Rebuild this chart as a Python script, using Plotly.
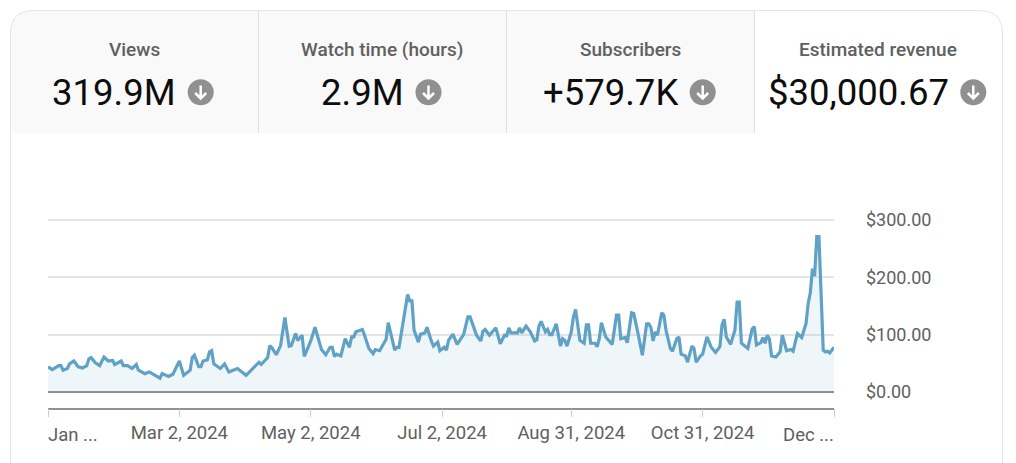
import pandas as pd
import plotly.graph_objects as go

W, H = 1016, 463

# days counted from Jan 1 2024, revenue in dollars
days_a = [0, 2, 5, 6, 7, 9, 10, 12, 14, 16, 18, 19, 20, 22, 24, 26, 28, 30, 31, 34, 35, 37, 39, 41, 42, 45, 47, 52, 53, 56, 58,
          61, 63, 66, 67, 68, 70, 71, 72, 74, 75, 76, 77, 80, 82, 84, 86, 88, 92, 95, 98, 99, 102, 103, 104, 106, 108, 110,
          112, 113, 115, 116, 118, 119]
revenue_a = [44, 39, 46, 46, 38, 41, 49, 54, 44, 42, 46, 58, 60, 51, 46, 61, 54, 55, 48, 54, 46, 46, 41, 48, 38, 32, 35, 24, 32, 27, 31,
             54, 29, 38, 60, 64, 44, 44, 54, 56, 70, 72, 49, 41, 49, 35, 38, 41, 29, 41, 52, 48, 60, 81, 77, 65, 81, 130,
             80, 81, 102, 90, 99, 62]

days_b = [122, 124, 127, 129, 131, 132, 133, 134, 136, 138, 140, 141, 142, 143, 145, 146, 147, 149, 151, 152, 154, 157, 158, 160,
          161, 162, 163, 167, 168, 169, 170, 172, 173, 175, 176, 178, 179, 181, 182, 184, 185, 186, 188, 190, 193, 195, 196,
          199, 201, 202, 203, 205, 208, 210, 212, 213, 214, 215, 218, 219, 220, 222, 224, 226, 227, 228, 229, 231, 232, 233,
          234, 236, 238, 239, 240, 241, 243, 244]
revenue_b = [89, 113, 74, 65, 78, 78, 62, 66, 63, 93, 78, 96, 96, 105, 108, 109, 99, 76, 67, 74, 72, 92, 121, 90,
             73, 78, 78, 170, 159, 159, 108, 87, 101, 103, 113, 89, 80, 87, 72, 78, 73, 90, 101, 83, 100, 131, 131,
             99, 89, 106, 109, 99, 112, 84, 99, 98, 112, 103, 103, 112, 103, 115, 105, 89, 91, 115, 123, 105, 109, 100,
             100, 119, 80, 93, 90, 80, 105, 131]

days_c = [245, 247, 249, 250, 251, 252, 254, 255, 256, 257, 259, 262, 264, 265, 266, 268, 269, 271, 272, 274, 276, 278, 279, 280,
          281, 282, 283, 285, 286, 287, 289, 290, 292, 293, 294, 296, 297, 299, 300, 301, 303, 304, 306, 308, 310, 312, 313,
          314, 315, 317, 319, 320, 321, 322, 325, 327, 328, 329, 331, 332, 333, 334, 335, 336, 338, 340, 341, 343, 345, 346,
          348, 350, 352, 353, 354, 355, 356, 357, 358, 360, 361, 362, 363, 365]
revenue_c = [144, 90, 85, 117, 117, 85, 85, 79, 93, 121, 96, 83, 134, 134, 93, 95, 86, 138, 137, 102, 64, 119, 119, 112,
             89, 105, 99, 138, 134, 108, 76, 71, 93, 96, 66, 63, 52, 80, 76, 52, 63, 66, 96, 78, 69, 79, 117,
             127, 96, 83, 108, 157, 157, 85, 76, 110, 114, 82, 86, 95, 85, 99, 93, 63, 61, 70, 99, 72, 74, 71,
             102, 95, 119, 154, 173, 215, 202, 271, 271, 73, 70, 71, 68, 78]

tick_dates = ['2024-01-01', '2024-03-02', '2024-05-02', '2024-07-02', '2024-08-31', '2024-10-31', '2024-12-31']
tick_labels = ['', 'Mar 2, 2024', 'May 2, 2024', 'Jul 2, 2024', 'Aug 31, 2024', 'Oct 31, 2024', '']
y_ticks = [0, 100, 200, 300]
y_labels = ['$0.00', '$100.00', '$200.00', '$300.00']

card_titles = ['Views', 'Watch time (hours)', 'Subscribers', 'Estimated revenue']
card_values = ['319.9M', '2.9M', '+579.7K', '$30,000.67']
title_x = [134, 382, 630, 878]
value_x = [52, 321, 543, 768]
icon_x = [200.7, 428.5, 702.7, 973.3]


def px(x):
    return x / W


def py(y):
    return 1 - y / H


def path(*cmds):
    # cmds are letters and (x, y) pixel pairs
    out = []
    for c in cmds:
        if isinstance(c, str):
            out.append(c)
        else:
            out.append(f'{px(c[0]):.5f},{py(c[1]):.5f}')
    return ' '.join(out)


dates = pd.Timestamp('2024-01-01') + pd.to_timedelta(days_a + days_b + days_c, unit='D')
revenue = revenue_a + revenue_b + revenue_c

fig = go.Figure()
fig.add_trace(go.Scatter(
    x=dates,
    y=revenue,
    mode='lines',
    line=dict(color='#5fa2c6', width=3.2),
    fill='tozeroy',
    fillcolor='rgba(95,162,198,0.1)',
    hoverinfo='skip'
))

shapes = []
# header strip and card outline
shapes.append(dict(type='path', xref='paper', yref='paper', layer='below',
                   path=path('M', (10.5, 133), 'L', (10.5, 34), 'Q', (10.5, 10.5), (34, 10.5), 'L', (754, 10.5), 'L', (754, 133), 'Z'),
                   fillcolor='#f9f9f9', line=dict(width=0)))
shapes.append(dict(type='path', xref='paper', yref='paper', layer='below',
                   path=path('M', (10.5, 463), 'L', (10.5, 34), 'Q', (10.5, 10.5), (34, 10.5), 'L', (979, 10.5),
                             'Q', (1002.5, 10.5), (1002.5, 34), 'L', (1002.5, 463)),
                   line=dict(color='#e5e5e5', width=1)))
for x in [258.5, 506.5, 754.5]:
    shapes.append(dict(type='line', xref='paper', yref='paper', layer='below',
                       x0=px(x), x1=px(x), y0=py(11), y1=py(133), line=dict(color='#e0e0e0', width=1)))

# down arrow badges
for x in icon_x:
    shapes.append(dict(type='circle', xref='paper', yref='paper',
                       x0=px(x - 13), x1=px(x + 13), y0=py(92.3 + 13), y1=py(92.3 - 13),
                       fillcolor='#909090', line=dict(width=0)))
    shapes.append(dict(type='path', xref='paper', yref='paper',
                       path=path('M', (x, 85.5), 'L', (x, 98.5), 'M', (x - 5.5, 93), 'L', (x, 98.5), 'L', (x + 5.5, 93)),
                       line=dict(color='white', width=2.5)))

annotations = []
for x, t in zip(title_x, card_titles):
    annotations.append(dict(text=t, xref='paper', yref='paper', x=px(x), y=py(50), showarrow=False,
                            xanchor='center', yanchor='middle',
                            font=dict(family='Roboto', size=19, color='#606060', weight=500)))
for x, t in zip(value_x, card_values):
    annotations.append(dict(text=t, xref='paper', yref='paper', x=px(x), y=py(92), showarrow=False,
                            xanchor='left', yanchor='middle', xshift=-2,
                            font=dict(family='Roboto', size=36.5, color='#0d0d0d')))
# end labels sit inside the axis, so they are aligned to the edges
annotations.append(dict(text='Jan ...', xref='paper', yref='paper', x=px(48), y=py(435), showarrow=False,
                        xanchor='left', yanchor='middle', xshift=-2,
                        font=dict(family='Roboto', size=18.5, color='#606060')))
annotations.append(dict(text='Dec ...', xref='paper', yref='paper', x=px(834), y=py(435), showarrow=False,
                        xanchor='right', yanchor='middle', xshift=2,
                        font=dict(family='Roboto', size=18.5, color='#606060')))

fig.update_layout(
    width=W,
    height=H,
    margin=dict(l=0, r=0, t=0, b=0),
    paper_bgcolor='white',
    plot_bgcolor='rgba(0,0,0,0)',
    showlegend=False,
    font=dict(family='Roboto', color='#606060', size=18),
    shapes=shapes,
    annotations=annotations,
    xaxis=dict(
        domain=[px(48), px(834)],
        range=['2024-01-01', '2024-12-31'],
        anchor='free',
        position=py(408.5),
        automargin=False,
        tickmode='array',
        tickvals=tick_dates,
        ticktext=tick_labels,
        ticks='outside',
        ticklen=8,
        tickcolor='#cccccc',
        showline=True,
        linecolor='#909090',
        linewidth=1.5,
        showgrid=False,
        zeroline=False,
        tickfont=dict(family='Roboto', size=18.5, color='#606060')
    ),
    yaxis=dict(
        # range runs a touch past 300 so the top gridline is kept
        domain=[py(392), py(218.85)],
        range=[0, 302],
        anchor='free',
        position=px(865),
        side='right',
        automargin=False,
        tickmode='array',
        tickvals=y_ticks,
        ticktext=y_labels,
        showgrid=True,
        gridcolor='#e5e5e5',
        gridwidth=1.5,
        zeroline=True,
        zerolinecolor='#909090',
        zerolinewidth=2,
        showline=False,
        ticks='',
        tickfont=dict(family='Roboto', size=18, color='#606060')
    )
)

fig.write_html("out.html", config=dict(displayModeBar=False),
               post_script="document.body.style.margin='0';")
